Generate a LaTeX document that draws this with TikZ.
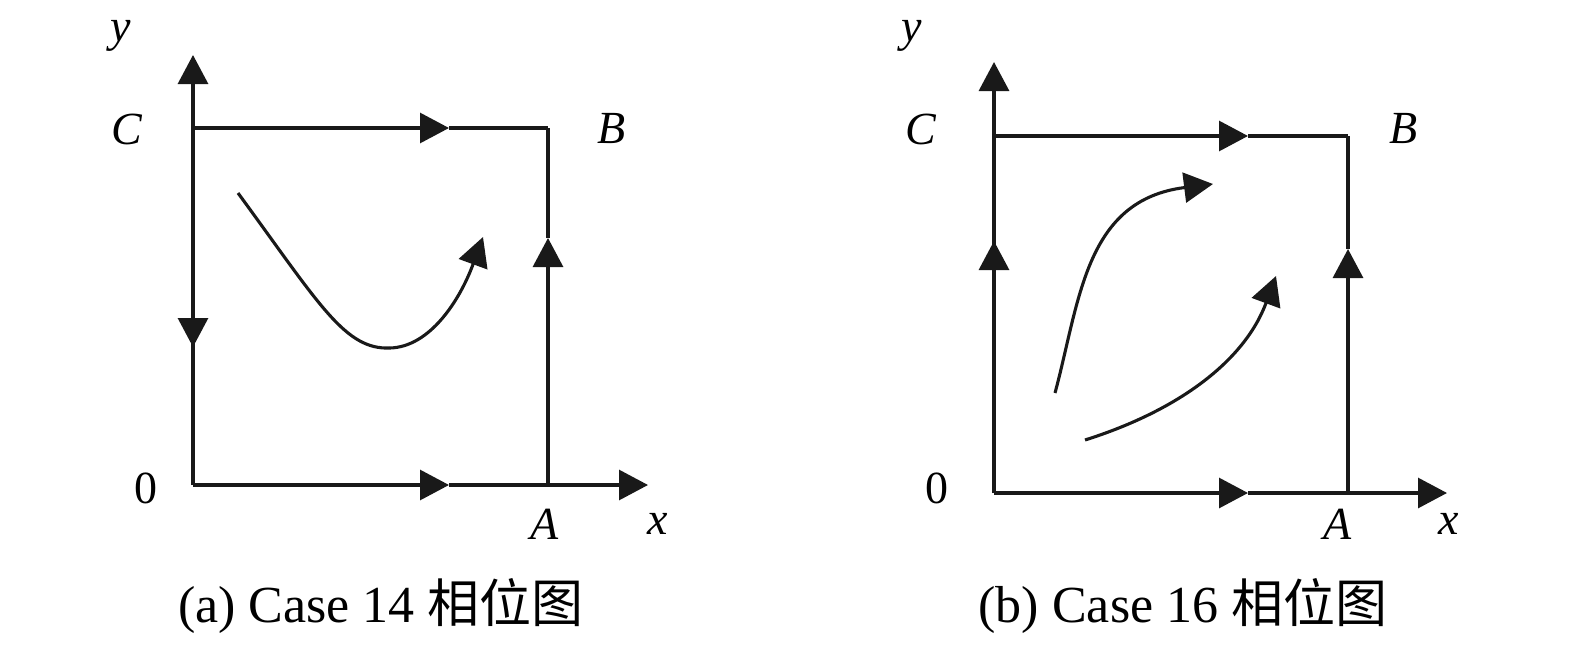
\documentclass[tikz,border=0pt]{standalone}
\usepackage{fontspec}
\setmainfont{Liberation Serif}
\newfontfamily\cjk{Noto Sans CJK SC}
\usetikzlibrary{arrows.meta}
\tikzset{
  ln/.style={line width=3.1pt, black!90},
  tri/.style={ln, -{Triangle[length=29pt,width=30pt]}},
  lab/.style={font=\fontsize{46}{50}\selectfont\itshape, inner sep=0pt},
  num/.style={font=\fontsize{46}{50}\selectfont, inner sep=0pt},
  captext/.style={font=\fontsize{52}{56}\selectfont, inner sep=0pt}
}
\begin{document}
\begin{tikzpicture}[x=1pt,y=-1pt]
\useasboundingbox (0,0) rectangle (1575,645);
% ---------- panel a ----------
\coordinate (Oa) at (193,485);
\coordinate (Aa) at (548,485);
\coordinate (Ba) at (548,128);
\coordinate (Ca) at (193,128);
\coordinate (YTa) at (193,55);
\coordinate (XTa) at (648,485);
\coordinate (mTa) at (449,128);
\coordinate (mBa) at (449,485);
\coordinate (mRa) at (548,238);
\coordinate (mLa) at (193,347);
\coordinate (s1a) at (238,193);
\coordinate (p1a) at (390,348);
\coordinate (e1a) at (483,237);
\draw[tri] (Oa) -- (YTa);
\draw[tri] (Ca) -- (mLa);
\draw[tri] (Oa) -- (mBa);
\draw[tri] (mBa) -- (XTa);
\draw[tri] (Ca) -- (mTa);
\draw[ln] (mTa) -- (Ba);
\draw[tri] (Aa) -- (mRa);
\draw[ln] (mRa) -- (Ba);
\draw[ln] (s1a) .. controls (320,305) and (345,350) .. (p1a);
\draw[tri] (p1a) .. controls (430,347) and (460,300) .. (e1a);
\node[lab] (ya) at (121,36) {y};
\node[lab] (Cla) at (127,129) {C};
\node[lab] (Bla) at (612,129) {B};
\node[num] (0a) at (146,488) {0};
\node[lab] (Ala) at (545,524) {A};
\node[lab] (xa) at (658,524) {x};
\node[captext] (capa) at (381,606) {(a) Case 14 {\cjk 相位图}};
% ---------- panel b ----------
\coordinate (Ob) at (994,493);
\coordinate (Ab) at (1348,493);
\coordinate (Bb) at (1348,136);
\coordinate (Cb) at (994,136);
\coordinate (YTb) at (994,62);
\coordinate (XTb) at (1447,493);
\coordinate (mTb) at (1248,136);
\coordinate (mBb) at (1248,493);
\coordinate (mLb) at (994,241);
\coordinate (mRb) at (1348,249);
\coordinate (s1b) at (1055,393);
\coordinate (e1b) at (1213,184);
\coordinate (s2b) at (1085,440);
\coordinate (e2b) at (1276,276);
\draw[tri] (Ob) -- (YTb);
\draw[tri] (Ob) -- (mLb);
\draw[tri] (Ob) -- (mBb);
\draw[tri] (mBb) -- (XTb);
\draw[tri] (Cb) -- (mTb);
\draw[ln] (mTb) -- (Bb);
\draw[tri] (Ab) -- (mRb);
\draw[ln] (mRb) -- (Bb);
\draw[tri] (s1b) .. controls (1080,300) and (1085,200) .. (e1b);
\draw[tri] (s2b) .. controls (1180,410) and (1245,360) .. (e2b);
\node[lab] (yb) at (912,36) {y};
\node[lab] (Clb) at (921,129) {C};
\node[lab] (Blb) at (1404,129) {B};
\node[num] (0b) at (937,488) {0};
\node[lab] (Alb) at (1338,524) {A};
\node[lab] (xb) at (1449,524) {x};
\node[captext] (capb) at (1183,606) {(b) Case 16 {\cjk 相位图}};
\end{tikzpicture}
\end{document}
